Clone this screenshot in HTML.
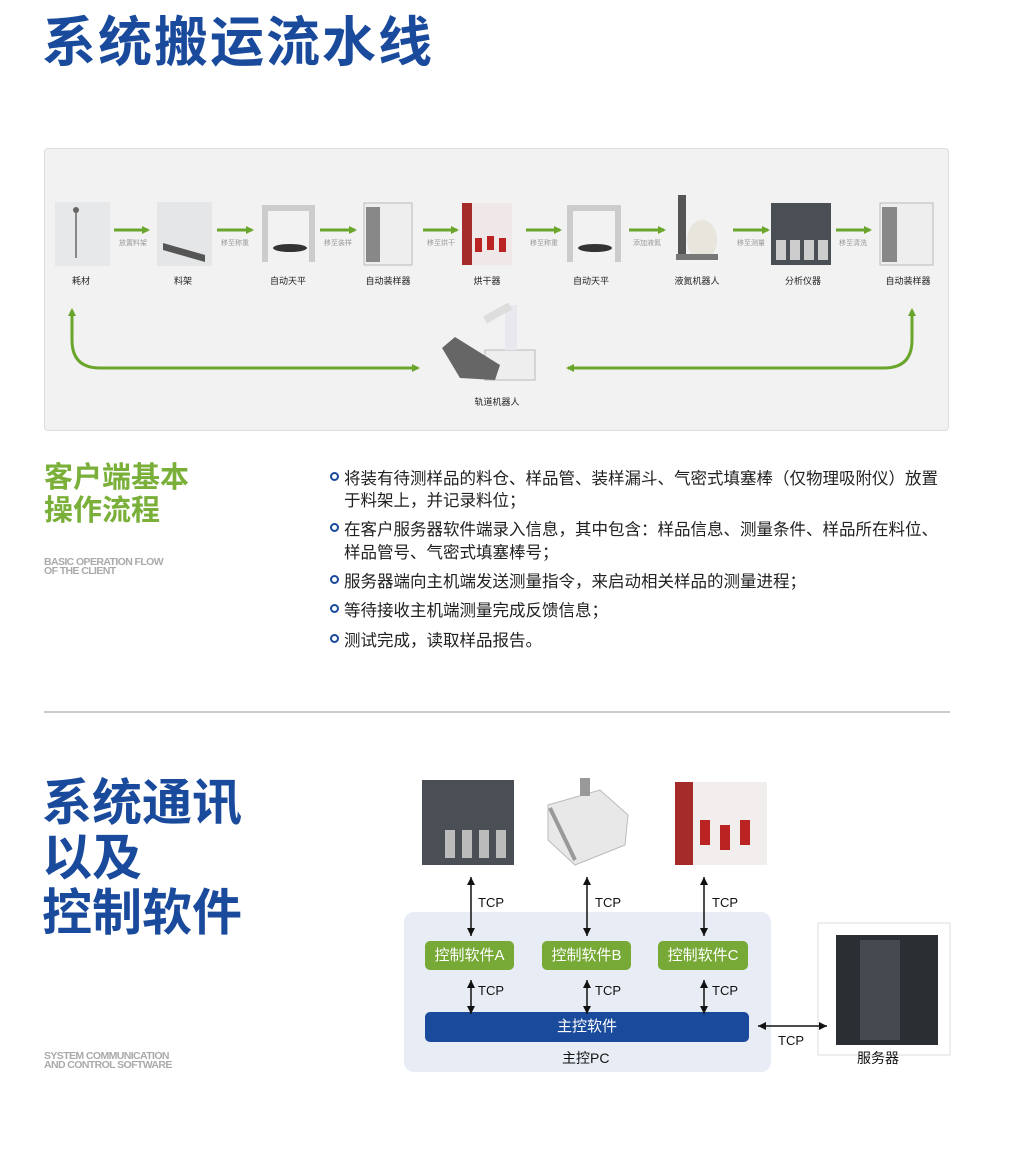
<!DOCTYPE html>
<html><head><meta charset="utf-8"><style>
*{margin:0;padding:0;box-sizing:border-box}
body{width:1020px;height:1163px;background:#fff;position:relative;font-family:"Liberation Sans","Noto Sans CJK SC",sans-serif;overflow:hidden}
.a{position:absolute}
.t{white-space:nowrap}
.lbl{position:absolute;font-size:9px;color:#222;transform:translateX(-50%);white-space:nowrap}
.al{position:absolute;font-size:7px;color:#999;transform:translateX(-50%);white-space:nowrap}
.btn{position:absolute;background:#76a935;color:#fff;font-size:15px;text-align:center;line-height:29px;border-radius:5px;height:29px}
.tcp{position:absolute;font-size:13px;color:#111}
.bul{position:absolute;left:330px;font-size:16.5px;color:#222;white-space:nowrap}
.dot{position:absolute;left:330px;width:9px;height:9px;border:2px solid #1a4a9c;border-radius:50%}
</style></head><body>
<div class="a t" style="left:42px;top:-2px;font-size:54px;font-weight:bold;color:#1a4a9c;letter-spacing:2px">系统搬运流水线</div>

<div class="a" style="left:44px;top:148px;width:905px;height:283px;background:#f2f2f2;border:1px solid #ddd;border-radius:4px"></div>
<svg class="a" style="left:0;top:0" width="1020" height="440">
<defs><marker id="g" markerUnits="userSpaceOnUse" markerWidth="10" markerHeight="10" refX="6" refY="5" orient="auto"><path d="M0,1L8,5L0,9z" fill="#6aa52c"/></marker></defs>
<g stroke="#6aa52c" stroke-width="3" fill="none" marker-end="url(#g)">
<line x1="114" y1="230" x2="148" y2="230"/><line x1="217" y1="230" x2="252" y2="230"/><line x1="320" y1="230" x2="355" y2="230"/><line x1="423" y1="230" x2="457" y2="230"/><line x1="526" y1="230" x2="560" y2="230"/><line x1="629" y1="230" x2="664" y2="230"/><line x1="733" y1="230" x2="768" y2="230"/><line x1="836" y1="230" x2="870" y2="230"/>
<path d="M72,340 Q72,368 100,368 L418,368"/>
<path d="M72,340 L72,310"/>
<path d="M912,340 Q912,368 884,368 L568,368"/>
<path d="M912,340 L912,310"/>
</g>
<rect x="55" y="202" width="55" height="64" fill="#e6e8ea"/><line x1="76" y1="210" x2="76" y2="258" stroke="#888" stroke-width="2"/><circle cx="76" cy="210" r="3" fill="#666"/>
<rect x="157" y="202" width="55" height="64" fill="#e4e6e8"/><path d="M163,243 L205,255 L205,262 L163,250z" fill="#555"/>
<g fill="none" stroke="#ccc" stroke-width="6"><path d="M265,262 L265,208 L312,208 L312,262"/><path d="M570,262 L570,208 L618,208 L618,262"/></g>
<ellipse cx="290" cy="248" rx="17" ry="4" fill="#333"/><ellipse cx="595" cy="248" rx="17" ry="4" fill="#333"/>
<rect x="364" y="203" width="48" height="62" fill="#eee" stroke="#bbb"/><rect x="366" y="207" width="14" height="55" fill="#888"/>
<rect x="880" y="203" width="53" height="62" fill="#eee" stroke="#bbb"/><rect x="882" y="207" width="15" height="55" fill="#888"/>
<rect x="462" y="203" width="50" height="62" fill="#f0e8e8"/><rect x="462" y="203" width="10" height="62" fill="#a52a2a"/><g fill="#b22"><rect x="475" y="238" width="7" height="14"/><rect x="487" y="236" width="7" height="14"/><rect x="499" y="238" width="7" height="14"/></g>
<rect x="678" y="195" width="8" height="65" fill="#555"/><ellipse cx="702" cy="240" rx="15" ry="20" fill="#e8e5dc"/><rect x="676" y="254" width="42" height="6" fill="#777"/>
<rect x="771" y="203" width="60" height="62" fill="#4a4f55"/><g fill="#ccc"><rect x="776" y="240" width="10" height="20"/><rect x="790" y="240" width="10" height="20"/><rect x="804" y="240" width="10" height="20"/><rect x="818" y="240" width="10" height="20"/></g>
<rect x="485" y="350" width="50" height="30" fill="#eee" stroke="#bbb"/><path d="M442,348 L455,337 L500,365 L495,380 L460,378z" fill="#666"/><rect x="505" y="305" width="12" height="45" fill="#e8e8ee"/><path d="M485,320 L510,306" stroke="#ddd" stroke-width="8"/>
</svg>
<div class="al" style="left:133px;top:238px">放置料架</div><div class="al" style="left:235px;top:238px">移至称重</div><div class="al" style="left:338px;top:238px">移至装样</div><div class="al" style="left:441px;top:238px">移至烘干</div><div class="al" style="left:544px;top:238px">移至称重</div><div class="al" style="left:647px;top:238px">添加液氮</div><div class="al" style="left:751px;top:238px">移至测量</div><div class="al" style="left:853px;top:238px">移至清洗</div>
<div class="lbl" style="left:81px;top:274px">耗材</div><div class="lbl" style="left:183px;top:274px">料架</div><div class="lbl" style="left:288px;top:274px">自动天平</div><div class="lbl" style="left:388px;top:274px">自动装样器</div><div class="lbl" style="left:487px;top:274px">烘干器</div><div class="lbl" style="left:591px;top:274px">自动天平</div><div class="lbl" style="left:697px;top:274px">液氮机器人</div><div class="lbl" style="left:803px;top:274px">分析仪器</div><div class="lbl" style="left:908px;top:274px">自动装样器</div>
<div class="lbl" style="left:497px;top:395px">轨道机器人</div>

<div class="a t" style="left:44px;top:462px;font-size:29px;font-weight:bold;color:#7ab03a;line-height:33px">客户端基本<br>操作流程</div>
<div class="a t" style="left:44px;top:558px;font-size:10.5px;font-weight:bold;color:#aaa;line-height:9px;letter-spacing:-0.6px">BASIC OPERATION FLOW<br>OF THE CLIENT</div>

<div class="dot" style="top:472px"></div><div class="bul" style="left:344px;top:465px">将装有待测样品的料仓、样品管、装样漏斗、气密式填塞棒（仅物理吸附仪）放置</div>
<div class="bul" style="left:344px;top:487px">于料架上，并记录料位；</div>
<div class="dot" style="top:523px"></div><div class="bul" style="left:344px;top:516px">在客户服务器软件端录入信息，其中包含：样品信息、测量条件、样品所在料位、</div>
<div class="bul" style="left:344px;top:539px">样品管号、气密式填塞棒号；</div>
<div class="dot" style="top:575px"></div><div class="bul" style="left:344px;top:568px">服务器端向主机端发送测量指令，来启动相关样品的测量进程；</div>
<div class="dot" style="top:604px"></div><div class="bul" style="left:344px;top:597px">等待接收主机端测量完成反馈信息；</div>
<div class="dot" style="top:634px"></div><div class="bul" style="left:344px;top:627px">测试完成，读取样品报告。</div>

<div class="a" style="left:44px;top:711px;width:906px;height:2px;background:#ccc"></div>

<div class="a t" style="left:42px;top:776px;font-size:50px;font-weight:bold;color:#1a4a9c;line-height:55px">系统通讯<br>以及<br>控制软件</div>
<div class="a t" style="left:44px;top:1052px;font-size:10.5px;font-weight:bold;color:#aaa;line-height:9px;letter-spacing:-0.6px">SYSTEM COMMUNICATION<br>AND CONTROL SOFTWARE</div>

<div class="a" style="left:404px;top:912px;width:367px;height:160px;background:#e8edf5;border-radius:10px"></div>
<div class="btn" style="left:425px;top:941px;width:89px">控制软件A</div>
<div class="btn" style="left:542px;top:941px;width:89px">控制软件B</div>
<div class="btn" style="left:658px;top:941px;width:90px">控制软件C</div>
<div class="a" style="left:425px;top:1012px;width:324px;height:30px;background:#1a4a9c;border-radius:5px;color:#fff;font-size:15px;text-align:center;line-height:30px">主控软件</div>
<div class="a t" style="left:562px;top:1048px;font-size:14px;color:#111">主控PC</div>
<svg class="a" style="left:0;top:760px" width="1020" height="320">
<defs>
<marker id="ke" markerUnits="userSpaceOnUse" markerWidth="10" markerHeight="10" refX="8" refY="5" orient="auto"><path d="M0,1L8,5L0,9z" fill="#111"/></marker>
<marker id="ks" markerUnits="userSpaceOnUse" markerWidth="10" markerHeight="10" refX="0" refY="5" orient="auto"><path d="M8,1L0,5L8,9z" fill="#111"/></marker>
</defs>
<rect x="422" y="20" width="92" height="85" fill="#4a4f55"/><g fill="#bbb"><rect x="445" y="70" width="10" height="28"/><rect x="462" y="70" width="10" height="28"/><rect x="479" y="70" width="10" height="28"/><rect x="496" y="70" width="10" height="28"/></g>
<path d="M548,45 L600,30 L628,55 L625,85 L575,105 L548,80z" fill="#e8e8e8" stroke="#bbb"/><path d="M550,48 L575,100" stroke="#999" stroke-width="4"/><rect x="580" y="18" width="10" height="18" fill="#999"/>
<rect x="675" y="22" width="92" height="83" fill="#f2eeee"/><rect x="675" y="22" width="18" height="83" fill="#a52a2a"/><g fill="#b22"><rect x="700" y="60" width="10" height="25"/><rect x="720" y="65" width="10" height="25"/><rect x="740" y="60" width="10" height="25"/></g>
<rect x="818" y="163" width="132" height="132" fill="#fff" stroke="#ddd"/><rect x="836" y="175" width="102" height="110" fill="#2b2f33"/><rect x="860" y="180" width="40" height="100" fill="#444a50"/>
<g stroke="#111" stroke-width="1.5" marker-start="url(#ks)" marker-end="url(#ke)">
<line x1="471" y1="117" x2="471" y2="176"/><line x1="587" y1="117" x2="587" y2="176"/><line x1="704" y1="117" x2="704" y2="176"/>
<line x1="471" y1="220" x2="471" y2="254"/><line x1="587" y1="220" x2="587" y2="254"/><line x1="704" y1="220" x2="704" y2="254"/>
<line x1="758" y1="266" x2="827" y2="266"/>
</g>
</svg>
<div class="tcp" style="left:478px;top:895px">TCP</div><div class="tcp" style="left:595px;top:895px">TCP</div><div class="tcp" style="left:712px;top:895px">TCP</div>
<div class="tcp" style="left:478px;top:983px">TCP</div><div class="tcp" style="left:595px;top:983px">TCP</div><div class="tcp" style="left:712px;top:983px">TCP</div>
<div class="tcp" style="left:778px;top:1033px">TCP</div>
<div class="a t" style="left:857px;top:1048px;font-size:14px;color:#111">服务器</div>
</body></html>
